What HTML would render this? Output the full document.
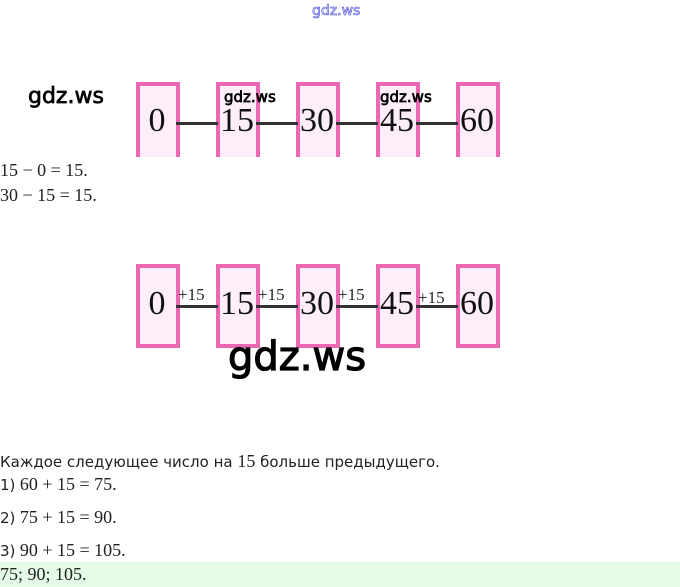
<!DOCTYPE html>
<html><head><meta charset="utf-8"><style>
body{margin:0;width:680px;height:587px;background:#fff;position:relative;overflow:hidden;font-family:"Liberation Sans",sans-serif;}
.a{position:absolute;white-space:nowrap}
.b{position:absolute;width:36px;background:#fdeef9;border:4px solid #ec68b4;box-sizing:content-box}
.r1{top:82px;height:71px;border-bottom:none}
.r2{top:264px;height:76px}
.n{position:absolute;font-family:"Liberation Serif",serif;font-size:34px;color:#111;width:60px;text-align:center}
.l{position:absolute;height:3px;background:#333}
.m{font-family:"Liberation Serif",serif;font-size:18px;color:#222}
.w{font-family:"DejaVu Sans",sans-serif;color:#000;-webkit-text-stroke:0.7px #000}
.p{position:absolute;font-family:"Liberation Serif",serif;font-size:17px;color:#222}
.t{font-family:"DejaVu Sans",sans-serif;font-size:15px;color:#222}
</style></head><body>
<div class="a" style="left:312px;top:3px;font-size:14px;color:#fff;-webkit-text-stroke:0.6px #4040dd;font-family:'DejaVu Sans',sans-serif">gdz.ws</div>
<div class="a w" style="left:28px;top:84px;font-size:22px">gdz.ws</div>

<div class="b r1" style="left:136px"></div>
<div class="b r1" style="left:216px"></div>
<div class="b r1" style="left:296px"></div>
<div class="b r1" style="left:376px"></div>
<div class="b r1" style="left:456px"></div>
<div class="l" style="left:176px;top:122px;width:42px"></div>
<div class="l" style="left:256px;top:122px;width:42px"></div>
<div class="l" style="left:336px;top:122px;width:42px"></div>
<div class="l" style="left:416px;top:122px;width:42px"></div>
<div class="n" style="left:127px;top:102px">0</div>
<div class="n" style="left:207px;top:102px">15</div>
<div class="n" style="left:287px;top:102px">30</div>
<div class="n" style="left:367px;top:102px">45</div>
<div class="n" style="left:447px;top:102px">60</div>
<div class="a w" style="left:224px;top:88px;font-size:15px">gdz.ws</div>
<div class="a w" style="left:380px;top:88px;font-size:15px">gdz.ws</div>

<div class="a m" style="left:0;top:160px">15 − 0 = 15.</div>
<div class="a m" style="left:0;top:185px">30 − 15 = 15.</div>

<div class="b r2" style="left:136px"></div>
<div class="b r2" style="left:216px"></div>
<div class="b r2" style="left:296px"></div>
<div class="b r2" style="left:376px"></div>
<div class="b r2" style="left:456px"></div>
<div class="l" style="left:176px;top:305px;width:42px"></div>
<div class="l" style="left:256px;top:305px;width:42px"></div>
<div class="l" style="left:336px;top:305px;width:42px"></div>
<div class="l" style="left:416px;top:305px;width:42px"></div>
<div class="p" style="left:178px;top:285px">+15</div>
<div class="p" style="left:258px;top:285px">+15</div>
<div class="p" style="left:338px;top:285px">+15</div>
<div class="p" style="left:418px;top:288px">+15</div>
<div class="n" style="left:127px;top:285px">0</div>
<div class="n" style="left:207px;top:285px">15</div>
<div class="n" style="left:287px;top:285px">30</div>
<div class="n" style="left:367px;top:285px">45</div>
<div class="n" style="left:447px;top:285px">60</div>
<div class="a w" style="left:228px;top:334px;font-size:40px;-webkit-text-stroke:1.2px #000">gdz.ws</div>

<div class="a" style="left:0;top:451px"><span class="t">Каждое следующее число на </span><span class="m">15</span><span class="t"> больше предыдущего.</span></div>
<div class="a" style="left:0;top:474px"><span class="t">1)</span> <span class="m">60 + 15 = 75.</span></div>
<div class="a" style="left:0;top:507px"><span class="t">2)</span> <span class="m">75 + 15 = 90.</span></div>
<div class="a" style="left:0;top:540px"><span class="t">3)</span> <span class="m">90 + 15 = 105.</span></div>
<div class="a" style="left:0;top:562px;width:680px;height:25px;background:#e4fbe8"></div>
<div class="a m" style="left:0;top:564px">75; 90; 105.</div>
</body></html>
